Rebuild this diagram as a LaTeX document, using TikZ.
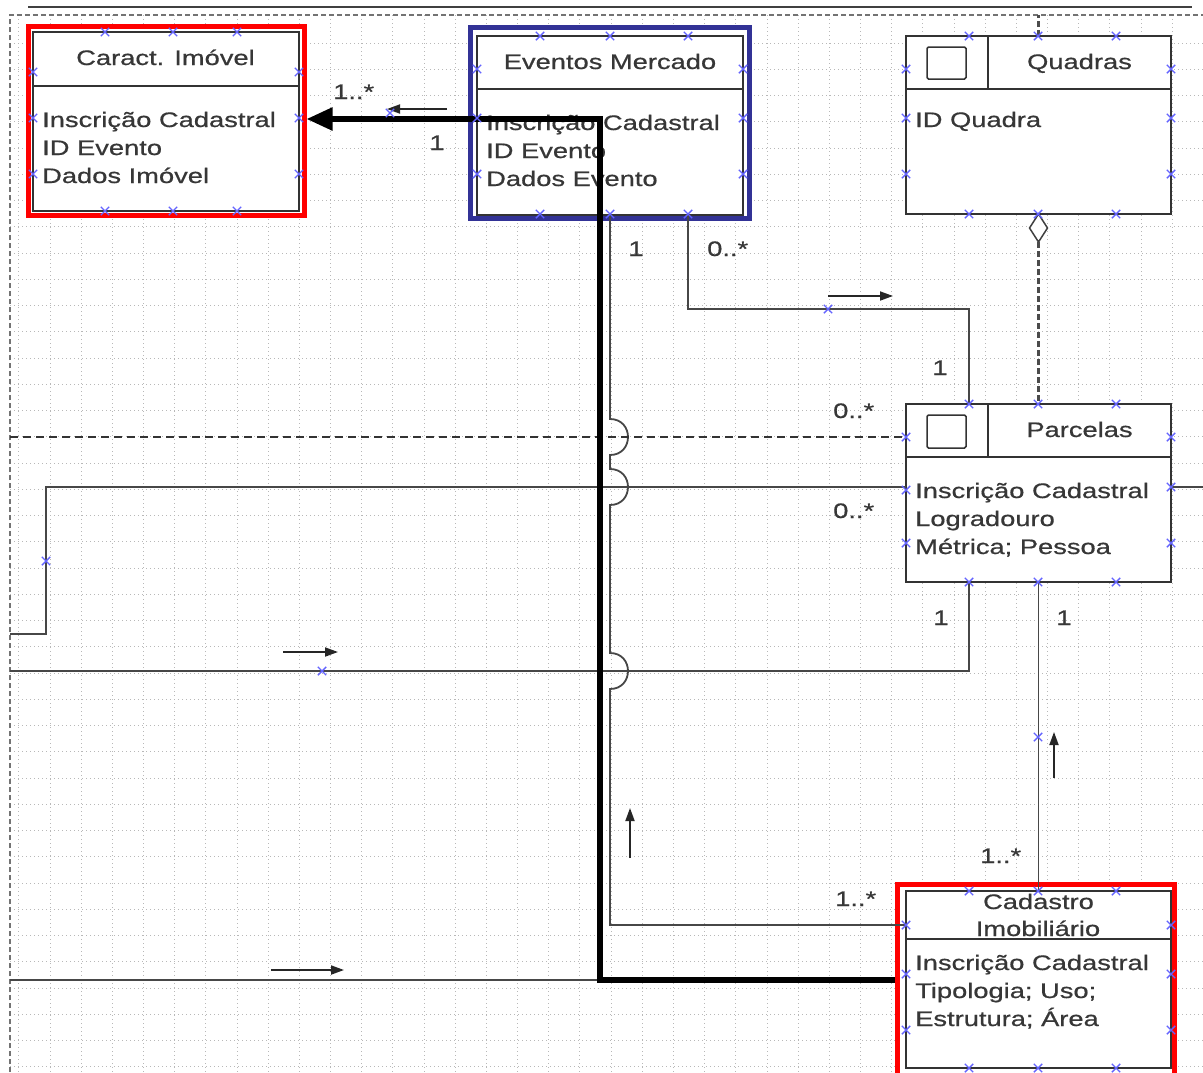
\documentclass[tikz,border=0pt]{standalone}
\usepackage{fontspec}
\setmainfont[FakeStretch=1.3,FakeBold=0.6]{Liberation Sans}
\usetikzlibrary{arrows.meta,calc,shapes.misc}
\definecolor{mkblue}{RGB}{100,100,255}
\definecolor{redf}{RGB}{255,0,0}
\definecolor{bluef}{RGB}{50,50,150}
\definecolor{txt}{RGB}{55,55,55}
\begin{document}
\begin{tikzpicture}[x=1pt,y=-1pt,
  font=\fontsize{21}{28}\selectfont,
  box/.style={draw=black!80, line width=1.6, fill=white, inner sep=0, outer sep=0},
  redframe/.style={draw=redf, line width=5, fill=white, inner sep=0},
  blueframe/.style={draw=bluef, line width=5, fill=white, inner sep=0},
  sepline/.style={draw=black!80, line width=1.5},
  conn/.style={draw=black!72, line width=1.8},
  thickconn/.style={draw=black, line width=5.5},
  dashconn/.style={draw=black!80, line width=1.8, dash pattern=on 8pt off 5pt},
  aggdash/.style={draw=black!70, line width=2.6, dash pattern=on 6pt off 3pt},
  hint/.style={draw=black!85, line width=1.8, -{Triangle[length=13pt,width=9pt]}},
  lbl/.style={inner sep=0, anchor=base west, text=txt},
  lblc/.style={inner sep=0, anchor=base, text=txt},
  attr/.style={inner sep=0, anchor=base west, text=txt},
  ttl/.style={inner sep=0, anchor=base, text=txt},
  gridl/.style={draw=black!28, line width=0.8, dash pattern=on 1pt off 3pt},
  cpmark/.style={draw=mkblue, cross out, minimum size=7pt, inner sep=0, line width=1.4}]
\useasboundingbox (0,0) rectangle (1203,1072);
\clip (0,0) rectangle (1203,1072);
\fill[white] (0,0) rectangle (1203,1072);

% background grid
\foreach \i in {0,...,37} {\draw[gridl] ({18.83+31.17*\i},15) -- ({18.83+31.17*\i},1072);}
\foreach \j in {0,...,39} {\draw[gridl] (10,{43+26.25*\j}) -- (1203,{43+26.25*\j});}

% page frame
\draw[black!75, line width=2] (28,7) -- (1192,7);
\draw[black!55, line width=2.6, dash pattern=on 5pt off 3pt] (10,1072) -- (10,15) -- (1203,15);

% frames
\node[redframe, minimum width=276, minimum height=189] (caractF) at (166,120.5) {};
\node[blueframe, minimum width=279, minimum height=191] (eventosF) at (610,123) {};
\node[redframe, minimum width=277, minimum height=205.5] (cadastroF) at (1036,987.25) {};

% boxes
\node[box, minimum width=266, minimum height=179] (caract) at (166,121.5) {};
\node[box, minimum width=266, minimum height=179] (eventos) at (610,125.5) {};
\node[box, minimum width=265, minimum height=178] (quadras) at (1038.5,125) {};
\node[box, minimum width=265, minimum height=178] (parcelas) at (1038.5,493) {};
\node[box, minimum width=265, minimum height=177] (cadastro) at (1038.5,979.5) {};

% header separators
\draw[sepline] ($(caract.north west)+(0,54)$) -- ($(caract.north east)+(0,54)$);
\draw[sepline] ($(eventos.north west)+(0,53)$) -- ($(eventos.north east)+(0,53)$);
\draw[sepline] ($(quadras.north west)+(0,53)$) -- ($(quadras.north east)+(0,53)$);
\draw[sepline] ($(quadras.north west)+(82,0)$) -- ($(quadras.north west)+(82,53)$);
\draw[sepline, rounded corners=1.5] ($(quadras.north west)+(21,11)$) rectangle ($(quadras.north west)+(60,43)$);
\draw[sepline] ($(parcelas.north west)+(0,53)$) -- ($(parcelas.north east)+(0,53)$);
\draw[sepline] ($(parcelas.north west)+(82,0)$) -- ($(parcelas.north west)+(82,53)$);
\draw[sepline, rounded corners=1.5] ($(parcelas.north west)+(21,11)$) rectangle ($(parcelas.north west)+(60,44)$);
\draw[sepline] ($(cadastro.north west)+(0,48)$) -- ($(cadastro.north east)+(0,48)$);

% texts
\node[ttl] (caractT) at (165.5,65) {Caract. Imóvel};
\node[attr] (caractA1) at (42,127) {Inscrição Cadastral};
\node[attr] (caractA2) at (42,155) {ID Evento};
\node[attr] (caractA3) at (42,183) {Dados Imóvel};

\node[ttl] (eventosT) at (610,69) {Eventos Mercado};
\node[attr] (eventosA1) at (486,130) {Inscrição Cadastral};
\node[attr] (eventosA2) at (486,158) {ID Evento};
\node[attr] (eventosA3) at (486,186) {Dados Evento};

\node[ttl] (quadrasT) at (1079.5,69) {Quadras};
\node[attr] (quadrasA1) at (915,127) {ID Quadra};

\node[ttl] (parcelasT) at (1079.5,437) {Parcelas};
\node[attr] (parcelasA1) at (915,498) {Inscrição Cadastral};
\node[attr] (parcelasA2) at (915,526) {Logradouro};
\node[attr] (parcelasA3) at (915,554) {Métrica; Pessoa};

\node[ttl] (cadastroT1) at (1038.5,909) {Cadastro};
\node[ttl] (cadastroT2) at (1038,936) {Imobiliário};
\node[attr] (cadastroA1) at (915,970) {Inscrição Cadastral};
\node[attr] (cadastroA2) at (915,998) {Tipologia; Uso;};
\node[attr] (cadastroA3) at (915,1026) {Estrutura; Área};

% helper coordinates
\coordinate (tkA) at (600,980);
\coordinate (tkB) at (600,119);
\coordinate (j925) at (0,925);
\coordinate (d437) at (10,437);
\coordinate (h487) at (0,487);
\coordinate (e634) at (10,634);
\coordinate (e671) at (10,671);
\coordinate (e980) at (10,980);
\coordinate (e487r) at (1203,487);
\coordinate (topq) at (1038.5,15);
\coordinate (aggB) at (1038.5,242);

% thin connectors
\draw[conn] (eventos.south) -- (610,419)
  .. controls (634,419) and (634,455) .. (610,455) -- (610,469)
  .. controls (634,469) and (634,505) .. (610,505) -- (610,653)
  .. controls (634,653) and (634,689) .. (610,689) -- (610,925) -- (cadastro.west |- j925);
\draw[conn] ([xshift=78]eventos.south) -- (688,309) -- (969,309) -- ([xshift=-69.5]parcelas.north);
\draw[dashconn] (d437) -- (parcelas.west |- d437);
\draw[conn] (parcelas.west |- h487) -- (46,487) -- (46,634) -- (e634);
\draw[conn] ([xshift=-69.5]parcelas.south) -- (969,671) -- (e671);
\draw[conn] (parcelas.south) -- (cadastro.north);
\draw[conn] (parcelas.east |- e487r) -- (e487r);
\draw[conn] (e980) -- (tkA);

% aggregation
\draw[black!75, line width=1.5, fill=white] (quadras.south) -- ++(9,14) -- (aggB) -- ++(-9,-14) -- cycle;
\draw[aggdash] (aggB) -- (parcelas.north);
\draw[aggdash] (quadras.north) -- (topq);

% thick connector
\draw[thickconn, -{Triangle[length=26pt,width=22pt]}] (cadastroF.west |- tkA) -- (tkA) -- (tkB) -- (caractF.east |- tkB);

% direction hints
\draw[hint] (447,109) -- (387,109);
\draw[hint] (828,296) -- (893,296);
\draw[hint] (283,652) -- (338,652);
\draw[hint] (271,970) -- (344,970);
\draw[hint] (630,858) -- (630,808);
\draw[hint] (1054,778) -- (1054,732);

% multiplicity labels
\node[lbl] (m1) at (333,99) {1..*};
\node[lblc] (m2) at (437,150) {1};
\node[lblc] (m3) at (636,256) {1};
\node[lbl] (m4) at (707,256) {0..*};
\node[lblc] (m5) at (940,375) {1};
\node[lbl] (m6) at (833,418) {0..*};
\node[lbl] (m7) at (833,518) {0..*};
\node[lblc] (m8) at (941,625) {1};
\node[lblc] (m9) at (1064,625) {1};
\node[lbl] (m10) at (980,863) {1..*};
\node[lbl] (m11) at (835,906) {1..*};

% connection point markers
\foreach \p in {
  (105,32),(173,32),(237,32),(105,211),(173,211),(237,211),
  (33,72),(33,118),(33,174),(299,72),(299,118),(299,174),
  (540,36),(610,36),(688,36),(540,214),(610,214),(688,214),
  (477,69),(477,118),(477,174),(743,69),(743,118),(743,174),
  (969,36),(1038,36),(1116,36),(969,214),(1038,214),(1116,214),
  (906,69),(906,118),(906,174),(1171,69),(1171,118),(1171,174),
  (969,404),(1038,404),(1116,404),(969,582),(1038,582),(1116,582),
  (906,437),(906,490),(906,543),(1171,437),(1171,487),(1171,543),
  (969,891),(1038,891),(1116,891),(969,1068),(1038,1068),(1116,1068),
  (906,925),(906,974),(906,1030),(1171,925),(1171,974),(1171,1030),
  (828,309),(46,561),(322,671),(1038,737),(390,113)}
  {\node[cpmark] at \p {};}
\end{tikzpicture}
\end{document}
